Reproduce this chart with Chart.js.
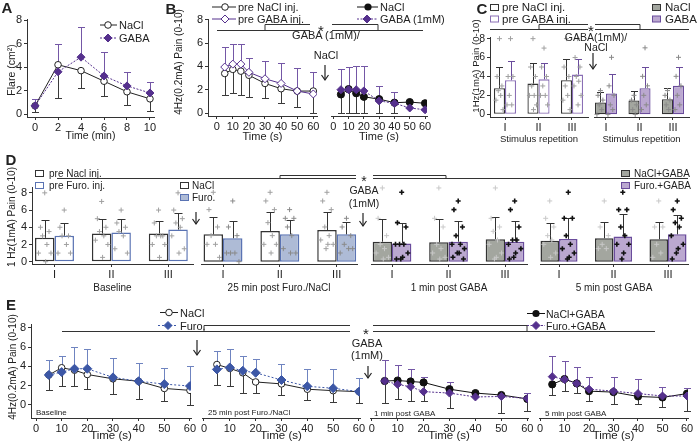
<!DOCTYPE html>
<html>
<head>
<meta charset="utf-8">
<script src="https://cdn.jsdelivr.net/npm/chart.js"></script>
<style>
html, body { margin: 0; padding: 0; background: #fff; }
#fig { position: relative; width: 700px; height: 443px; overflow: hidden; }
#fig canvas { position: absolute; }
#ov { position: absolute; left: 0; top: 0; pointer-events: none; }
</style>
</head>
<body>
<div id="fig"><svg id="ov" width="700" height="443"></svg></div>
<script>
// ---------- data ----------
// A: flare
const flareTime = [0, 2, 4, 6, 8, 10];
const flareNaCl = [0.7, 4.2, 3.7, 2.8, 1.9, 1.3];
const flareNaClLo = [0.2, 1.4, 2.2, 1.5, 0.8, 0.3];
const flareGABA = [0.7, 3.6, 4.85, 3.25, 2.4, 1.8];
const flareGABAHi = [1.25, 5.95, 7.45, 5.25, 3.55, 2.7];

// B: 4 Hz pain over time (s)
const secTime = [5, 10, 15, 20, 30, 40, 50, 60];
const bPreNaCl = [3.4, 3.75, 3.6, 3.25, 2.55, 2.1, 1.9, 1.9];
const bPreNaClLo = [1.55, 1.75, 1.55, 1.4, 1.3, 0.9, 0.5, 0];
const bPreGABA = [3.95, 4.2, 4.2, 3.5, 2.95, 2.55, 1.9, 1.65];
const bPreGABAHi = [5.65, 5.9, 5.9, 4.75, 4.5, 4.3, 3.85, 3.5];
const bNaCl = [1.6, 2.05, 1.7, 1.4, 1.2, 0.9, 0.95, 0.85];
const bNaClLo = [0, 0, 0, 0, 0, 0, null, null];
const bGABA = [2.0, 2.0, 2.0, 1.9, 1.05, 0.85, 0.45, 0.3];
const bGABAHi = [3.75, 3.95, 4.0, 4.0, 2.3, 1.8, null, null];

// C: 1 Hz pain per stimulus repetition
const reps = ['I', 'II', 'III'];
const cPreNaCl = [2.75, 3.25, 3.6];
const cPreNaClHi = [4.95, 5.45, 5.8];
const cPreNaClPts = [[8, 4, 3, 2.5, 2, 1.5, 0.5], [8, 5, 4, 3, 2, 2, 1, 0.5], [8, 5, 4, 3, 2, 1.5, 0.5]];
const cPreGABA = [3.6, 3.7, 4.2];
const cPreGABAHi = [5.65, 5.45, 5.9];
const cPreGABAPts = [[8, 4, 4, 2, 1, 1], [7, 5, 4, 3, 2, 2, 1], [8, 6, 5, 4, 3.5, 3, 2, 1]];
const cNaCl = [1.25, 1.45, 1.6];
const cNaClHi = [2.3, 2.45, 2.75];
const cNaClPts = [[2.5, 2, 1.5, 1, 0.5, 0], [2, 1.5, 1, 0.5, 0], [2.5, 2, 1.5, 1, 0.5]];
const cGABA = [2.2, 2.75, 3.0];
const cGABAHi = [4.25, 4.95, 4.95];
const cGABAPts = [[6, 3, 2, 1, 0.5, 0], [7, 4, 3, 2, 1, 0.5], [6, 4, 3, 2, 1, 0.5]];

// D: 1 Hz pain, furosemide experiment
const dPreNaCl = [2.77, 3.27, 3.27];
const dPreNaClHi = [4.8, 5.0, 4.73];
const dPreNaClPts = [[8, 4, 3.5, 3, 2, 1, 1, 0], [7, 5, 4, 3.5, 3, 2.5, 2, 0.5], [6, 4.5, 3, 3, 3, 2, 2, 0.5]];
const dPreFuro = [3.0, 3.38, 3.73];
const dPreFuroHi = [4.54, 5.0, 5.7];
const dPreFuroPts = [[6, 4, 3, 3, 2, 1, 1], [6, 4.5, 4, 3.5, 3, 1.5, 1], [8, 6, 5, 4.5, 4, 3, 1.5, 1]];
const dNaCl = [3.15, 3.54, 3.65];
const dNaClHi = [5.2, 5.77, 5.77];
const dNaClPts = [[8, 6, 4, 3, 2, 2, 0.5], [8, 7, 6, 4.5, 3, 2, 2, 1], [8, 7, 6, 4, 3, 2.5, 2, 2, 1.5]];
const dFuro = [2.7, 3.15, 3.15];
const dFuroHi = [4.73, 4.8, 4.6];
const dFuroPts = [[7, 4, 3, 1, 1, 1, 0], [6, 5, 5, 4, 3, 1.5, 1, 1], [5, 4, 3, 2, 1.5, 1, 1.5]];
const dNaClG1 = [2.3, 2.23, 2.58];
const dNaClG1Hi = [4.9, 4.9, 5.1];
const dNaClG1Pts = [[8.5, 5, 3, 2, 1.5, 1, 0.5, 0.3], [8.5, 5, 4, 2, 1.5, 1, 0.5, 0.3], [8.5, 5, 4, 3.5, 2.5, 2, 1, 0.5, 0.3]];
const dFuroG1 = [2.1, 2.3, 2.3];
const dFuroG1Hi = [4.5, 4.7, 4.7];
const dFuroG1Pts = [[8, 4.5, 4, 2, 2, 2, 1, 0.5, 0.3, 0.3], [7, 6, 4, 3, 2, 2, 1.5, 1, 1, 0.5, 0.3], [7, 6, 4, 2.5, 2.5, 2, 1.5, 1, 0.5, 0.3]];
const dNaClG5 = [2.42, 2.7, 2.58];
const dNaClG5Hi = [4.5, 4.54, 4.6];
const dNaClG5Pts = [[7, 5, 4, 3, 2.5, 2, 1, 0.5], [7, 4, 3, 2, 1.5, 1.5], [7, 4, 4, 2, 1, 0.5]];
const dFuroG5 = [2.6, 2.9, 3.15];
const dFuroG5Hi = [5.08, 5.5, 5.4];
const dFuroG5Pts = [[8, 5, 5, 3, 2, 1.5, 1, 0.5, 0.3], [8, 6, 6, 4, 3, 2, 2, 1, 0.3], [7, 6, 5, 4.5, 4, 3, 2, 1.5, 1, 0.3]];

// E: 4 Hz pain over time, furosemide experiment
const e1NaCl = [3.1, 3.85, 3.6, 3.15, 2.7, 2.45, 1.7, 1.5];
const e1NaClLo = [1.5, 1.95, 2.0, 1.6, 1.1, 0.65, 0.4, -0.05];
const e1Furo = [3.1, 3.4, 3.75, 3.75, 2.85, 2.45, 2.15, 1.95];
const e1FuroHi = [4.7, 5.1, 6.0, 5.8, 4.9, 4.35, 3.85, 4.05];
const e2NaCl = [4.15, 3.75, 3.3, 2.35, 2.15, 1.6, 1.45, 1.35];
const e2NaClLo = [2.05, 1.95, 1.2, 1.25, 1.0, 0.5, 0.3, 0.2];
const e2Furo = [3.65, 3.85, 3.5, 3.3, 2.55, 1.9, 1.7, 1.35];
const e2FuroHi = [5.5, 5.8, 5.05, 4.75, 4.25, 3.7, 3.65, 2.8];
const e3NaCl = [2.45, 2.5, 2.4, 2.3, 1.6, 1.2, 1.0, 0.6];
const e3NaClLo = [0.15, 0.55, 0.4, 0.4, -0.35, null, -0.9, -0.65];
const e3Furo = [2.45, 2.1, 1.85, 1.35, 1.2, 0.8, 0.85, 0.65];
const e3FuroHi = [4.6, 4.1, 3.65, 2.9, 2.3, null, null, 1.2];
const e4NaCl = [2.1, 2.65, 2.2, 1.4, 1.3, 0.85, 0.75, 1.15];
const e4NaClLo = [1.0, 1.4, 1.2, 0.4, 0.05, 0.05, -0.2, -0.65];
const e4Furo = [2.9, 2.6, 2.2, 1.6, 1.4, 1.15, 0.9, 0.9];
const e4FuroHi = [5.0, 4.55, 3.85, 2.9, 2.9, 2.65, 1.8, 1.75];

const painTicks = [0, 2, 4, 6, 8];
const minTicks = [0, 2, 4, 6, 8, 10];
const secTicks = [0, 10, 20, 30, 40, 50, 60];
const repTicks = [0, 1, 2];

// ---------- look ----------
const FONT = '"Liberation Sans", Arial, Helvetica, sans-serif';
const INK = '#222';
const PURP = '#55308d', PURP_E = '#7457a6';
const BLUE = '#3c57a6', BLUE_E = '#6f84c0';
const GRAYF = '#a3a69f', PURPF = '#bba8d0', PURPB = '#6a4c9c';
const BLUEF = '#aebbd6', BLUEB = '#5a73b3', PREPURP = '#8a6fb5';

Chart.defaults.font.family = FONT;
Chart.defaults.font.size = 11;
Chart.defaults.color = INK;

const fig = document.getElementById('fig');
const ov = document.getElementById('ov');

// error bars (to a given end value) and individual "+" points
const JIT = [0, -0.55, 0.55, -0.28, 0.28, -0.8, 0.8, 0.12, -0.12, -0.68, 0.68];
function drawErr(chart, o) {
  const ctx = chart.ctx, ys = chart.scales.y;
  chart.data.datasets.forEach((ds, di) => {
    if (!ds.err) return;
    const meta = chart.getDatasetMeta(di);
    ctx.save();
    ctx.strokeStyle = ds.errColor || '#333';
    ctx.lineWidth = 1;
    meta.data.forEach((el, i) => {
      const e = ds.err[i];
      if (e == null) return;
      const x = Math.round(el.x) + 0.5;
      const y1 = Math.round(ys.getPixelForValue(e)) + 0.5;
      const c = o.cap || 3.5;
      ctx.beginPath();
      ctx.moveTo(x, el.y); ctx.lineTo(x, y1);
      ctx.moveTo(x - c, y1); ctx.lineTo(x + c, y1);
      ctx.stroke();
    });
    ctx.restore();
  });
}
function drawPts(chart) {
  const ctx = chart.ctx, ys = chart.scales.y;
  chart.data.datasets.forEach((ds, di) => {
    if (!ds.pts) return;
    const meta = chart.getDatasetMeta(di);
    ctx.save();
    ctx.strokeStyle = ds.ptColor || '#9a9a9a';
    ctx.lineWidth = ds.ptWidth || 1;
    meta.data.forEach((el, i) => {
      const half = el.width / 2 * 0.8;
      (ds.pts[i] || []).forEach((v, k) => {
        const px = el.x + JIT[k % JIT.length] * half;
        const py = ys.getPixelForValue(v);
        const s = ds.ptSize || 2.5;
        ctx.beginPath();
        ctx.moveTo(px - s, py); ctx.lineTo(px + s, py);
        ctx.moveTo(px, py - s); ctx.lineTo(px, py + s);
        ctx.stroke();
      });
    });
    ctx.restore();
  });
}
Chart.register({
  id: 'errbars',
  beforeDatasetsDraw(chart, args, o) { if (!o.top) drawErr(chart, o); },
  afterDatasetsDraw(chart, args, o) { if (o.top) drawErr(chart, o); drawPts(chart); }
});

// scales
function xAx(min, max, ticks, title, xh, tsize, fmt) {
  return {
    type: 'linear', min, max, offset: false,
    afterBuildTicks: s => { s.ticks = ticks.map(v => ({value: v})); },
    afterFit: s => { s.height = xh; },
    grid: {display: true, drawOnChartArea: false, drawTicks: true, tickLength: 3, color: '#333', offset: false},
    border: {display: true, color: '#333', width: 1},
    ticks: {padding: 1, color: INK, font: {size: 11}, maxRotation: 0, autoSkip: false, callback: fmt || (v => v)},
    title: {display: true, text: title, padding: 0, color: INK, font: {size: tsize}}
  };
}
function yAx(min, max, yw, tsize) {
  if (!yw) return {type: 'linear', min, max, display: false};
  return {
    type: 'linear', min, max,
    afterBuildTicks: s => { s.ticks = painTicks.map(v => ({value: v})); },
    afterFit: s => { s.width = yw; },
    grid: {display: true, drawOnChartArea: false, drawTicks: true, tickLength: 3, color: '#333'},
    border: {display: true, color: '#333', width: 1},
    ticks: {padding: 2, color: INK, font: {size: tsize || 11}}
  };
}

// a chart whose plot area is exactly a = {l, t, r, b}
function mk(a, type, datasets, x, y, err) {
  const padL = a.yw ? 0 : 8;
  const left = a.l - a.yw - padL, top = a.t - 8;
  const cv = document.createElement('canvas');
  cv.width = a.r + 8 - left;
  cv.height = a.b + a.xh - top;
  cv.style.left = left + 'px';
  cv.style.top = top + 'px';
  fig.insertBefore(cv, ov);
  return new Chart(cv, {
    type,
    data: {datasets},
    options: {
      responsive: false, animation: false, devicePixelRatio: 1,
      layout: {padding: {left: padL, top: 8, right: 8, bottom: 0}},
      scales: {x, y},
      plugins: {legend: {display: false}, tooltip: {enabled: false}, errbars: err}
    }
  });
}

const xy = (xs, ys) => ys.map((v, i) => ({x: xs[i], y: v}));
function lineDs(xs, ys, err, st) {
  return Object.assign({data: xy(xs, ys), err, borderWidth: 1, tension: 0, fill: false, pointBorderWidth: 1}, st);
}
const sOpenBlack = {borderColor: INK, backgroundColor: '#fff', pointStyle: 'circle', pointRadius: 3.3, errColor: '#3a3a3a'};
const sFillBlack = {borderColor: '#111', backgroundColor: '#111', pointStyle: 'circle', pointRadius: 3.6, errColor: '#3a3a3a'};
const sGABA = {borderColor: PURP, backgroundColor: PURP, pointStyle: 'rectRot', pointRadius: 4, borderDash: [2, 1.5], errColor: PURP_E};
const sGABAopen = {borderColor: PURP, backgroundColor: '#fff', pointStyle: 'rectRot', pointRadius: 4, errColor: PURP_E};
const sFuro = {borderColor: BLUE, backgroundColor: BLUE, pointStyle: 'rectRot', pointRadius: 4.5, borderDash: [2, 2], errColor: BLUE_E};

function barDs(vals, hi, pts, st, cp) {
  return Object.assign({data: xy(repTicks, vals), err: hi, pts, borderSkipped: false,
    categoryPercentage: cp, barPercentage: 1}, st);
}
const repFmt = v => reps[v];

// ---------- A ----------
mk({l: 27, t: 19, r: 154, b: 117, yw: 20, xh: 25}, 'line', [
  lineDs(flareTime, flareGABA, flareGABAHi, Object.assign({}, sGABA, {pointRadius: 4})),
  lineDs(flareTime, flareNaCl, flareNaClLo, sOpenBlack)
], xAx(-0.7, 10.35, minTicks, 'Time (min)', 25, 10.5), yAx(-0.25, 8.05, 20), {cap: 3.5});

// ---------- B ----------
mk({l: 208, t: 19, r: 317, b: 116, yw: 20, xh: 28}, 'line', [
  lineDs(secTime, bPreGABA, bPreGABAHi, sGABAopen),
  lineDs(secTime, bPreNaCl, bPreNaClLo, sOpenBlack)
], xAx(-5.4, 62.3, secTicks, 'Time (s)', 28, 11), yAx(-0.23, 8, 20), {cap: 3.5});
mk({l: 331, t: 19, r: 427, b: 116, yw: 0, xh: 28}, 'line', [
  lineDs(secTime, bGABA, bGABAHi, sGABA),
  lineDs(secTime, bNaCl, bNaClLo, sFillBlack)
], xAx(-1.5, 61.3, secTicks, 'Time (s)', 28, 11), yAx(-0.23, 8, 0), {cap: 3.5});

// ---------- C ----------
const cStyle = (fill, border, errc, ptc) => ({backgroundColor: fill, borderColor: border, borderWidth: 1.3, errColor: errc, ptColor: ptc});
mk({l: 490, t: 37, r: 588, b: 117, yw: 16, xh: 28}, 'bar', [
  barDs(cPreNaCl, cPreNaClHi, cPreNaClPts, cStyle('#fff', '#333', '#333', '#a0a0a0'), 0.66),
  barDs(cPreGABA, cPreGABAHi, cPreGABAPts, cStyle('#fff', PREPURP, PURPB, '#a0a0a0'), 0.66)
], xAx(-0.448, 2.478, repTicks, 'Stimulus repetition', 28, 9.5, repFmt), yAx(-0.28, 8.14, 16, 10.5), {top: true, cap: 3.5});
mk({l: 594, t: 37, r: 689, b: 117, yw: 0, xh: 28}, 'bar', [
  barDs(cNaCl, cNaClHi, cNaClPts, cStyle(GRAYF, '#333', '#333', '#8a8a8a'), 0.66),
  barDs(cGABA, cGABAHi, cGABAPts, cStyle(PURPF, PURPB, PURPB, '#8a8a8a'), 0.66)
], xAx(-0.358, 2.478, repTicks, 'Stimulus repetition', 28, 9.5, repFmt), yAx(-0.28, 8.14, 0), {top: true, cap: 3.5});

// ---------- D ----------
const dStyle = (fill, border, ptc, ptw) => ({backgroundColor: fill, borderColor: border, borderWidth: 1.5, errColor: '#333', ptColor: ptc, ptWidth: ptw || 1});
mk({l: 32, t: 187, r: 193, b: 264, yw: 20, xh: 30}, 'bar', [
  barDs(dPreNaCl, dPreNaClHi, dPreNaClPts, dStyle('#fff', '#333', '#a0a0a0'), 0.685),
  barDs(dPreFuro, dPreFuroHi, dPreFuroPts, dStyle('#fff', BLUEB, '#a0a0a0'), 0.685)
], xAx(-0.395, 2.434, repTicks, 'Baseline', 30, 10, repFmt), yAx(-0.27, 8.61, 20), {top: true, cap: 4});
mk({l: 201, t: 187, r: 357, b: 264, yw: 0, xh: 30}, 'bar', [
  barDs(dNaCl, dNaClHi, dNaClPts, dStyle('#fff', '#333', '#a0a0a0'), 0.685),
  barDs(dFuro, dFuroHi, dFuroPts, dStyle(BLUEF, BLUEB, '#8a8a8a'), 0.685)
], xAx(-0.387, 2.357, repTicks, '25 min post Furo./NaCl', 30, 10, repFmt), yAx(-0.27, 8.61, 0), {top: true, cap: 4});
mk({l: 371, t: 187, r: 527, b: 264, yw: 0, xh: 30}, 'bar', [
  barDs(dNaClG1, dNaClG1Hi, dNaClG1Pts, dStyle(GRAYF, '#333', '#c8c8c8'), 0.685),
  barDs(dFuroG1, dFuroG1Hi, dFuroG1Pts, dStyle(PURPF, PURPB, '#111', 1.6), 0.685)
], xAx(-0.372, 2.389, repTicks, '1 min post GABA', 30, 10, repFmt), yAx(-0.27, 8.61, 0), {top: true, cap: 4});
mk({l: 540, t: 187, r: 688, b: 264, yw: 0, xh: 30}, 'bar', [
  barDs(dNaClG5, dNaClG5Hi, dNaClG5Pts, dStyle(GRAYF, '#333', '#c8c8c8'), 0.68),
  barDs(dFuroG5, dFuroG5Hi, dFuroG5Pts, dStyle(PURPF, PURPB, '#111', 1.6), 0.68)
], xAx(-0.349, 2.367, repTicks, '5 min post GABA', 30, 10, repFmt), yAx(-0.27, 8.61, 0), {top: true, cap: 4});

// ---------- E ----------
const eY = (yw) => yAx(-1.375, 8.34, yw);
mk({l: 31, t: 324, r: 191, b: 418, yw: 20, xh: 25}, 'line', [
  lineDs(secTime, e1Furo, e1FuroHi, sFuro),
  lineDs(secTime, e1NaCl, e1NaClLo, sOpenBlack)
], xAx(-1.95, 60.4, secTicks, 'Time (s)', 25, 11.5), eY(20), {cap: 3.5});
mk({l: 202, t: 324, r: 360, b: 418, yw: 0, xh: 25}, 'line', [
  lineDs(secTime, e2Furo, e2FuroHi, sFuro),
  lineDs(secTime, e2NaCl, e2NaClLo, sOpenBlack)
], xAx(-0.77, 60.39, secTicks, 'Time (s)', 25, 11.5), eY(0), {cap: 3.5});
mk({l: 370, t: 324, r: 528, b: 418, yw: 0, xh: 25}, 'line', [
  lineDs(secTime, e3Furo, e3FuroHi, sGABA),
  lineDs(secTime, e3NaCl, e3NaClLo, sFillBlack)
], xAx(-0.66, 60.27, secTicks, 'Time (s)', 25, 11.5), eY(0), {cap: 3.5});
mk({l: 539, t: 324, r: 688, b: 418, yw: 0, xh: 25}, 'line', [
  lineDs(secTime, e4Furo, e4FuroHi, sGABA),
  lineDs(secTime, e4NaCl, e4NaClLo, sFillBlack)
], xAx(-0.41, 60.41, secTicks, 'Time (s)', 25, 11.5), eY(0), {cap: 3.5});

// ---------- overlay: labels, legends, brackets, arrows ----------
const NS = 'http://www.w3.org/2000/svg';
function sv(tag, a, txt) {
  const e = document.createElementNS(NS, tag);
  for (const k in a) e.setAttribute(k, a[k]);
  if (txt != null) e.textContent = txt;
  ov.appendChild(e);
  return e;
}
function T(x, y, s, size, anchor, weight, rot) {
  const a = {x, y, 'font-size': size || 11, 'text-anchor': anchor || 'start', 'dominant-baseline': 'central',
    fill: INK, 'font-family': FONT, 'font-weight': weight || 'normal'};
  if (rot) a.transform = `rotate(${rot} ${x} ${y})`;
  return sv('text', a, s);
}
function P(pts, color, w, dash) {
  return sv('polyline', {points: pts.map(p => p.join(',')).join(' '), fill: 'none',
    stroke: color || '#333', 'stroke-width': w || 1, 'stroke-dasharray': dash || 'none'});
}
function arrow(x, y1, y2) {
  P([[x, y1], [x, y2]], INK, 1.2);
  P([[x - 3.5, y2 - 5], [x, y2], [x + 3.5, y2 - 5]], INK, 1.2);
}
function mark(x, y, kind, color) {
  if (kind === 'oc') sv('circle', {cx: x, cy: y, r: 3.3, fill: '#fff', stroke: color, 'stroke-width': 1});
  if (kind === 'fc') sv('circle', {cx: x, cy: y, r: 3.6, fill: color});
  if (kind === 'fd' || kind === 'od') sv('polygon', {points: `${x - 4},${y} ${x},${y - 4} ${x + 4},${y} ${x},${y + 4}`,
    fill: kind === 'fd' ? color : '#fff', stroke: color, 'stroke-width': 1});
}
function legLine(x1, x2, y, color, dash, kind, mx, text, tx, size) {
  P([[x1, y], [x2, y]], color, 1, dash);
  mark(mx, y, kind, color);
  T(tx, y, text, size);
}
function legBox(x, y, fill, stroke, text, tx, size) {
  sv('rect', {x: x + 0.5, y: y - 2.5, width: 8, height: 6, fill, stroke, 'stroke-width': 1});
  T(tx, y, text, size);
}

// panel letters
T(7, 7, 'A', 15, 'middle', 'bold');
T(171, 8, 'B', 15, 'middle', 'bold');
T(482, 8, 'C', 15, 'middle', 'bold');
T(11, 159, 'D', 15, 'middle', 'bold');
T(11, 304, 'E', 15, 'middle', 'bold');

// y titles
T(10.5, 70, 'Flare (cm\u00B2)', 10.5, 'middle', 'normal', -90);
T(178, 62, '4Hz(0.2mA) Pain (0-10)', 10, 'middle', 'normal', -90);
T(475.5, 66, '1Hz(1mA) Pain (0-10)', 9.6, 'middle', 'normal', -90);
T(11, 217, '1 Hz(1mA) Pain (0-10)', 10, 'middle', 'normal', -90);
T(12, 367, '4Hz(0.2mA) Pain (0-10)', 10, 'middle', 'normal', -90);

// A legend
legLine(100, 117, 25, INK, null, 'oc', 108, 'NaCl', 119, 11);
legLine(100, 117, 38, PURP, '2,1.5', 'fd', 108, 'GABA', 119, 11);

// B legend + annotations
legLine(212, 236, 7, INK, null, 'oc', 225, 'pre NaCl inj.', 238, 11);
legLine(212, 236, 19, PURP, null, 'od', 225, 'pre GABA inj.', 238, 11);
legLine(357, 378, 7, '#111', null, 'fc', 368, 'NaCl', 380, 11);
legLine(357, 378, 19, PURP, '2,1.5', 'fd', 367, 'GABA (1mM)', 380, 11);
P([[217, 30.5], [310, 30.5]]); P([[332, 30.5], [423, 30.5]]);
P([[265, 30.5], [265, 24.5], [310, 24.5]]); P([[332, 24.5], [378, 24.5], [378, 30.5]]);
T(321, 30, '*', 15, 'middle');
T(326, 35, 'GABA (1mM)/', 11, 'middle');
T(326, 55, 'NaCl', 11, 'middle');
arrow(325, 65, 80);

// C legend + annotations
legBox(490, 7, '#fff', '#333', 'pre NaCl inj.', 502, 11.5);
legBox(490, 18.5, '#fff', PREPURP, 'pre GABA inj.', 502, 11.5);
legBox(652, 7, GRAYF, '#333', 'NaCl', 665, 11.5);
legBox(652, 18.5, PURPF, PURPB, 'GABA', 665, 11.5);
P([[490, 29.5], [588, 29.5]]); P([[595, 29.5], [689, 29.5]]);
P([[539, 29.5], [539, 24.5], [588, 24.5]]); P([[595, 24.5], [640, 24.5], [640, 29.5]]);
T(591, 30, '*', 15, 'middle');
T(596, 37, 'GABA(1mM)/', 10.5, 'middle');
T(596, 47, 'NaCl', 10.5, 'middle');
arrow(593, 53, 69);

// D legend + annotations
legBox(35, 173, '#fff', '#333', 'pre Nacl inj.', 49, 10);
legBox(35, 185, '#fff', BLUEB, 'pre Furo. inj.', 49, 10);
legBox(180, 185, '#fff', '#333', 'NaCl', 192, 10);
legBox(180, 197, BLUEF, BLUEB, 'Furo.', 192, 10);
legBox(621, 173, GRAYF, '#333', 'NaCl+GABA', 634, 10);
legBox(621, 185, PURPF, PURPB, 'Furo.+GABA', 634, 10);
P([[57, 178.5], [356, 178.5]]); P([[373, 178.5], [688, 178.5]]);
P([[280, 178.5], [280, 175.5], [356, 175.5]]); P([[373, 175.5], [446, 175.5], [446, 178.5]]);
T(364, 181, '*', 14, 'middle');
arrow(196, 212, 224);
T(364, 190, 'GABA', 10.5, 'middle');
T(364, 203, '(1mM)', 10.5, 'middle');
arrow(363, 213, 226);

// E legend + annotations
legLine(160, 178, 312.5, INK, null, 'oc', 169, 'NaCl', 180, 11);
legLine(158, 178, 325.5, BLUE, '2,2', 'fd', 168, 'Furo.', 180, 11);
legLine(527, 545, 313.5, '#111', null, 'fc', 536, 'NaCl+GABA', 546, 10.5);
legLine(527, 545, 325.5, PURP, '2,1.5', 'fd', 536, 'Furo.+GABA', 546, 10.5);
P([[62, 331.5], [350, 331.5]]); P([[373, 331.5], [655, 331.5]]);
P([[204, 331.5], [204, 325.5], [350, 325.5]]); P([[373, 325.5], [527, 325.5], [527, 331.5]]);
T(366, 333, '*', 15, 'middle');
arrow(197, 340, 355);
T(367, 343, 'GABA', 11, 'middle');
T(367, 355, '(1mM)', 11, 'middle');
arrow(368, 366, 378);
T(36, 412, 'Baseline', 8);
T(208, 412, '25 min post Furo./NaCl', 8);
T(374, 413, '1 min post GABA', 8);
T(545, 413, '5 min post GABA', 8);
</script>
</body>
</html>
